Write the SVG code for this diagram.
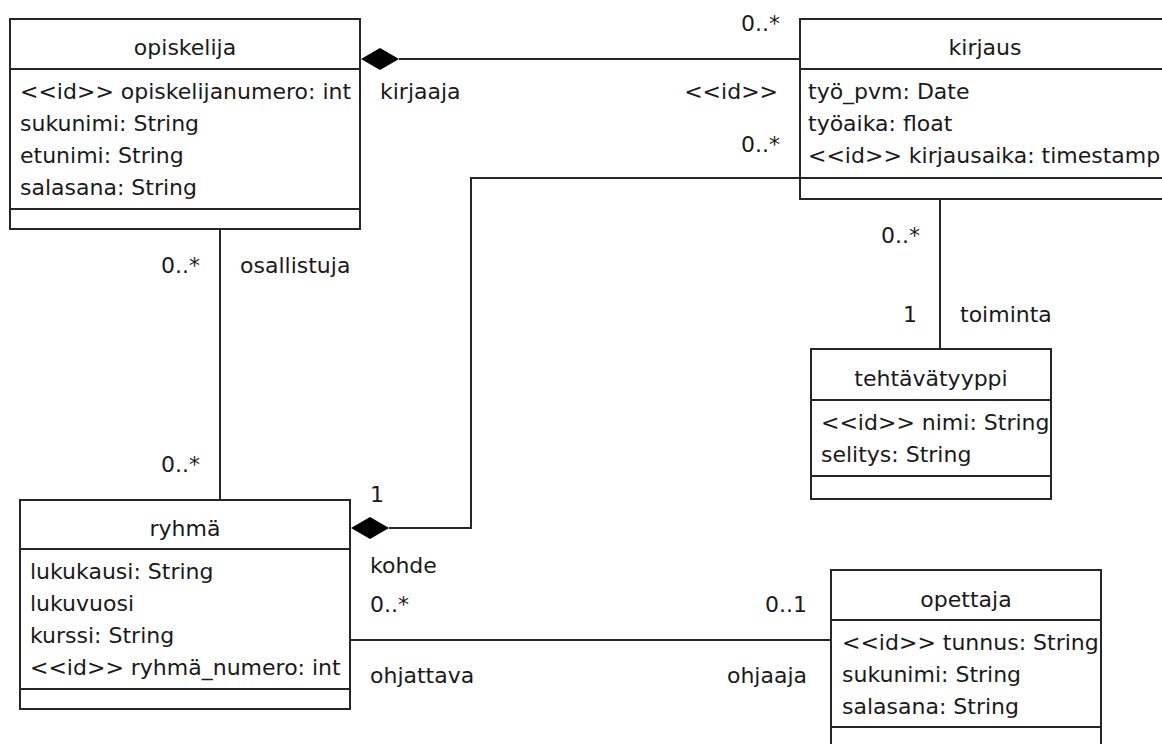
<svg xmlns="http://www.w3.org/2000/svg" width="1162" height="744" viewBox="0 0 1162 744">
<style>
.box{fill:#fff;stroke:#262626;stroke-width:2}
.sep{stroke:#262626;stroke-width:2}
.conn{fill:none;stroke:#262626;stroke-width:2}
.dia{fill:#000;stroke:none}
text{font-family:"DejaVu Sans","Liberation Sans",sans-serif;font-size:22px;fill:#1a1a1a}
.t{text-anchor:middle}
.e{text-anchor:end}
</style>
<rect width="1162" height="744" fill="#fff"/>
<g id="connectors">
<line class="conn" x1="399" y1="59" x2="800" y2="59"/>
<polygon class="dia" points="361,59 380,48 399,59 380,70"/>
<polyline class="conn" points="800,178 471,178 471,528 389,528"/>
<polygon class="dia" points="351,528 370,517 389,528 370,539"/>
<line class="conn" x1="220" y1="229" x2="220" y2="500"/>
<line class="conn" x1="940" y1="199" x2="940" y2="349"/>
<line class="conn" x1="350" y1="640" x2="831" y2="640"/>
<text x="380" y="99">kirjaaja</text>
<text class="e" x="780" y="31">0..*</text>
<text class="e" x="778" y="99">&lt;&lt;id&gt;&gt;</text>
<text class="e" x="780" y="152">0..*</text>
<text x="370" y="502">1</text>
<text x="370" y="573">kohde</text>
<text class="e" x="200" y="273">0..*</text>
<text x="240" y="273">osallistuja</text>
<text class="e" x="200" y="472">0..*</text>
<text class="e" x="920" y="243">0..*</text>
<text class="e" x="917" y="322">1</text>
<text x="960" y="322">toiminta</text>
<text x="370" y="612">0..*</text>
<text x="370" y="683">ohjattava</text>
<text class="e" x="807" y="612">0..1</text>
<text class="e" x="807" y="683">ohjaaja</text>
</g>
<g id="opiskelija">
<rect class="box" x="10" y="19" width="350" height="210"/>
<line class="sep" x1="10" y1="69" x2="360" y2="69"/>
<line class="sep" x1="10" y1="209" x2="360" y2="209"/>
<text class="t" x="185" y="55">opiskelija</text>
<text x="20" y="99">&lt;&lt;id&gt;&gt; opiskelijanumero: int</text>
<text x="20" y="131">sukunimi: String</text>
<text x="20" y="163">etunimi: String</text>
<text x="20" y="195">salasana: String</text>
</g>
<g id="kirjaus">
<rect class="box" x="800" y="19" width="380" height="180"/>
<line class="sep" x1="800" y1="69" x2="1180" y2="69"/>
<line class="sep" x1="800" y1="178" x2="1180" y2="178"/>
<text class="t" x="985" y="55">kirjaus</text>
<text x="808" y="99">työ_pvm: Date</text>
<text x="808" y="131">työaika: float</text>
<text x="808" y="163">&lt;&lt;id&gt;&gt; kirjausaika: timestamp</text>
</g>
<g id="tehtavatyyppi">
<rect class="box" x="811" y="349" width="240" height="150"/>
<line class="sep" x1="811" y1="400" x2="1051" y2="400"/>
<line class="sep" x1="811" y1="476" x2="1051" y2="476"/>
<text class="t" x="931" y="386">tehtävätyyppi</text>
<text x="821" y="430">&lt;&lt;id&gt;&gt; nimi: String</text>
<text x="821" y="462">selitys: String</text>
</g>
<g id="ryhma">
<rect class="box" x="20" y="500" width="330" height="209"/>
<line class="sep" x1="20" y1="549" x2="350" y2="549"/>
<line class="sep" x1="20" y1="689" x2="350" y2="689"/>
<text class="t" x="185" y="536">ryhmä</text>
<text x="30" y="579">lukukausi: String</text>
<text x="30" y="611">lukuvuosi</text>
<text x="30" y="643">kurssi: String</text>
<text x="30" y="675">&lt;&lt;id&gt;&gt; ryhmä_numero: int</text>
</g>
<g id="opettaja">
<rect class="box" x="831" y="570" width="270" height="190"/>
<line class="sep" x1="831" y1="620" x2="1101" y2="620"/>
<line class="sep" x1="831" y1="727" x2="1101" y2="727"/>
<text class="t" x="966" y="607">opettaja</text>
<text x="842" y="650">&lt;&lt;id&gt;&gt; tunnus: String</text>
<text x="842" y="682">sukunimi: String</text>
<text x="842" y="714">salasana: String</text>
</g>
</svg>
